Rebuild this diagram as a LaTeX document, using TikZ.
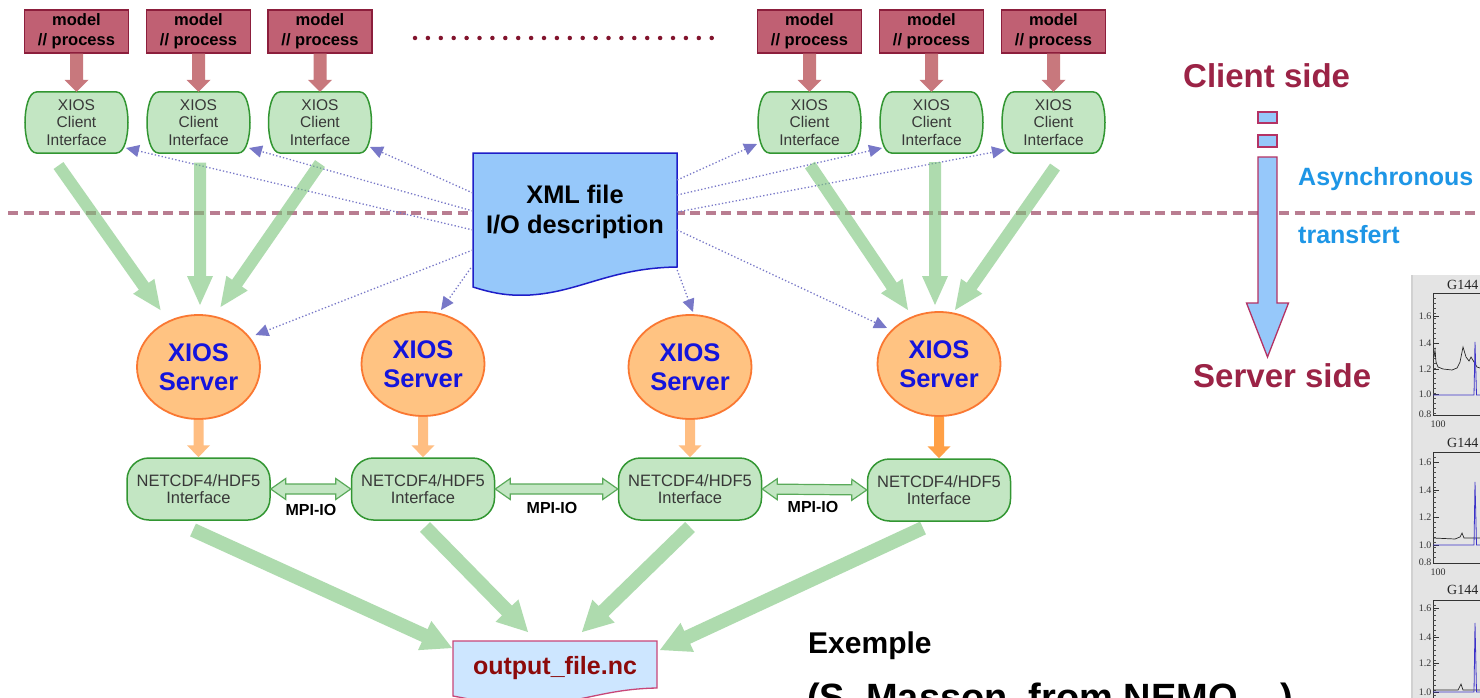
\documentclass[tikz,border=0pt]{standalone}
\usepackage{fontspec}
\setmainfont{Liberation Sans}
\newfontfamily\plotfont{Liberation Serif}
\usetikzlibrary{arrows.meta,shapes.geometric,calc}
\definecolor{modelfill}{RGB}{192,96,115}
\definecolor{modelbd}{RGB}{140,30,60}
\definecolor{redarr}{RGB}{200,120,125}
\definecolor{clfill}{RGB}{195,230,195}
\definecolor{clbd}{RGB}{50,150,50}
\definecolor{garr}{RGB}{120,195,120}
\definecolor{svfill}{RGB}{255,195,130}
\definecolor{svbd}{RGB}{250,120,50}
\definecolor{svtext}{RGB}{20,20,220}
\definecolor{oarr}{RGB}{255,190,130}
\definecolor{oarrdark}{RGB}{255,160,70}
\definecolor{xmlfill}{RGB}{150,200,250}
\definecolor{xmlbd}{RGB}{30,30,200}
\definecolor{dotarr}{RGB}{120,120,200}
\definecolor{dashc}{RGB}{185,125,145}
\definecolor{dotsc}{RGB}{130,20,45}
\definecolor{outfill}{RGB}{205,230,255}
\definecolor{outbd}{RGB}{200,70,120}
\definecolor{outtext}{RGB}{140,10,10}
\definecolor{sidec}{RGB}{155,35,70}
\definecolor{asyc}{RGB}{30,150,230}
\definecolor{legfill}{RGB}{150,200,250}
\definecolor{legbd}{RGB}{180,50,100}
\definecolor{mpibd}{RGB}{90,170,90}
\definecolor{plotbg}{RGB}{228,228,228}
\definecolor{plotblue}{RGB}{60,50,200}
\tikzset{
  blockarrow/.style n args={3}{to path={
    ($(\tikztotarget)!#3!(\tikztostart)$) coordinate (bahead)
    ($(\tikztostart)!#1!90:(\tikztotarget)$)
    -- ($(bahead)!#1!90:(\tikztotarget)$)
    -- ($(bahead)!#2!90:(\tikztotarget)$)
    -- (\tikztotarget)
    -- ($(bahead)!#2!-90:(\tikztotarget)$)
    -- ($(bahead)!#1!-90:(\tikztotarget)$)
    -- ($(\tikztostart)!#1!-90:(\tikztotarget)$) -- cycle}},
  dblarrow/.style n args={3}{to path={
    ($(\tikztotarget)!#3!(\tikztostart)$) coordinate (dbtwo)
    ($(\tikztostart)!#3!(\tikztotarget)$) coordinate (dbone)
    (\tikztostart)
    -- ($(dbone)!#2!90:(\tikztotarget)$)
    -- ($(dbone)!#1!90:(\tikztotarget)$)
    -- ($(dbtwo)!#1!90:(\tikztotarget)$)
    -- ($(dbtwo)!#2!90:(\tikztotarget)$)
    -- (\tikztotarget)
    -- ($(dbtwo)!#2!-90:(\tikztotarget)$)
    -- ($(dbtwo)!#1!-90:(\tikztotarget)$)
    -- ($(dbone)!#1!-90:(\tikztotarget)$)
    -- ($(dbone)!#2!-90:(\tikztotarget)$) -- cycle}},
  modelbox/.style={draw=modelbd, line width=1.2pt, fill=modelfill, minimum width=104pt,
    minimum height=43pt, inner sep=0pt, align=center, font=\bfseries\fontsize{16.5}{20}\selectfont},
  clientnode/.style={minimum width=104pt, minimum height=61pt, inner sep=0pt, align=center,
    text=black!78, font=\fontsize{15.5}{17.5}\selectfont},
  clientshape/.style={draw=clbd, line width=1.5pt, fill=clfill},
  redarrow/.style={fill=redarr, draw=none, blockarrow={6.5pt}{12pt}{12pt}},
  greenarrow/.style={fill=garr, fill opacity=0.6, draw=none, blockarrow={6pt}{13pt}{29pt}},
  outarrow/.style={fill=garr, fill opacity=0.6, draw=none, blockarrow={7pt}{16pt}{30pt}},
  orangearrow/.style={fill=oarr, draw=none, blockarrow={5pt}{11.5pt}{12pt}},
  mpiarrow/.style={draw=mpibd, fill=clfill, line width=1.2pt, line join=miter, dblarrow={5pt}{10.5pt}{15pt}},
  legarrow/.style={draw=legbd, fill=legfill, line width=1.3pt, blockarrow={9.5pt}{21pt}{54pt}},
  server/.style={ellipse, draw=svbd, line width=1.8pt, fill=svfill, minimum width=123pt,
    minimum height=104pt, inner sep=0pt, align=center, text=svtext,
    font=\bfseries\fontsize{25.5}{29}\selectfont},
  ncnode/.style={draw=clbd, line width=1.5pt, fill=clfill, rounded corners=22pt, minimum width=143pt,
    minimum height=62pt, inner sep=0pt, align=center, text=black!78,
    font=\fontsize{16.5}{17}\selectfont},
  mpilabel/.style={font=\bfseries\fontsize{16}{18}\selectfont, anchor=base},
  dotconn/.style={draw=dotarr, line width=1.3pt, dash pattern=on 1.3pt off 2.2pt,
    -{Triangle[length=13pt,width=12pt]}},
  sidetext/.style={text=sidec, font=\bfseries\fontsize{33}{36}\selectfont, anchor=base west, inner sep=0pt},
  asytext/.style={text=asyc, font=\bfseries\fontsize{25}{28}\selectfont, anchor=base west, inner sep=0pt},
  plotlab/.style={font=\plotfont\fontsize{10}{10}\selectfont, anchor=east, inner sep=0.5pt, text=black!80},
  plottitle/.style={font=\plotfont\fontsize{14}{14}\selectfont, anchor=base west, inner sep=0pt, text=black!85},
}
\newcommand\clientat[3]{%
  \draw[clientshape] ({#2-40},{#3-30.5}) -- ({#2+40},{#3-30.5})
    .. controls ({#2+48},{#3-30.5}) and ({#2+51.5},{#3-14}) .. ({#2+51.5},{#3})
    .. controls ({#2+51.5},{#3+14}) and ({#2+48},{#3+30.5}) .. ({#2+40},{#3+30.5})
    -- ({#2-40},{#3+30.5})
    .. controls ({#2-48},{#3+30.5}) and ({#2-51.5},{#3+14}) .. ({#2-51.5},{#3})
    .. controls ({#2-51.5},{#3-14}) and ({#2-48},{#3-30.5}) .. cycle;
  \node[clientnode] (#1) at (#2,#3) {XIOS\\Client\\Interface};}
\begin{document}
\begin{tikzpicture}[x=1pt,y=-1pt]
\path[use as bounding box] (0,0) rectangle (1480,698);
\clip (0,0) rectangle (1480,698);
\fill[white] (0,0) rectangle (1480,698);

% ---- plot fragment (bottom right)
\fill[plotbg] (1411,275) rectangle (1480,698);
\fill[black!18] (1411,275) rectangle (1413,698);
\draw[black!80, line width=0.8pt] (1484,293) -- (1433,293) -- (1433,415) -- (1484,415);
\draw[black!80, line width=0.8pt] (1484,452) -- (1433,452) -- (1433,563) -- (1484,563);
\draw[black!80, line width=0.8pt] (1484,600) -- (1433,600) -- (1433,710);
\foreach \yy in {298,303,...,413}{\draw[black!70, line width=0.5pt] (1433,\yy) -- (1436,\yy);}
\foreach \yy in {457,462,...,561}{\draw[black!70, line width=0.5pt] (1433,\yy) -- (1436,\yy);}
\foreach \yy in {605,610,...,698}{\draw[black!70, line width=0.5pt] (1433,\yy) -- (1436,\yy);}
\foreach \yy in {316,343,369,394}{\draw[black!80, line width=0.6pt] (1433,\yy) -- (1439,\yy);}
\foreach \yy in {462,490,517,545}{\draw[black!80, line width=0.6pt] (1433,\yy) -- (1439,\yy);}
\foreach \yy in {608,637,663,692}{\draw[black!80, line width=0.6pt] (1433,\yy) -- (1439,\yy);}
\node[plottitle] (pt1) at (1447,289) {G144};
\node[plottitle] (pt2) at (1447,447) {G144};
\node[plottitle] (pt3) at (1447,594) {G144};
\node[plotlab] at (1432,316) {1.6};
\node[plotlab] at (1432,343) {1.4};
\node[plotlab] at (1432,369) {1.2};
\node[plotlab] at (1432,394) {1.0};
\node[plotlab] at (1432,414) {0.8};
\node[plotlab, anchor=center] at (1438,424) {100};
\node[plotlab] at (1432,462) {1.6};
\node[plotlab] at (1432,490) {1.4};
\node[plotlab] at (1432,517) {1.2};
\node[plotlab] at (1432,545) {1.0};
\node[plotlab] at (1432,562) {0.8};
\node[plotlab, anchor=center] at (1438,572) {100};
\node[plotlab] at (1432,608) {1.6};
\node[plotlab] at (1432,637) {1.4};
\node[plotlab] at (1432,663) {1.2};
\node[plotlab] at (1432,692) {1.0};
\draw[black!85, line width=0.7pt] (1434,357) -- (1435,350) -- (1436,362) -- (1438,367) -- (1443,369)
  -- (1452,370) -- (1457,368) -- (1460,362) -- (1463,347) -- (1466,357) -- (1469,361) -- (1471,357)
  -- (1474,362) -- (1477,367) -- (1480,368);
\draw[plotblue, line width=0.8pt] (1433,395) -- (1474,395) -- (1475,342) -- (1476.5,395) -- (1480,395);
\draw[black!85, line width=0.7pt] (1433,538) -- (1455,539) -- (1460,537) -- (1462,533) -- (1464,538)
  -- (1474,538) -- (1480,538);
\draw[plotblue, line width=0.8pt] (1433,545) -- (1474,545) -- (1475,482) -- (1476.5,545) -- (1480,545);
\draw[black!85, line width=0.7pt] (1433,690) -- (1458,690) -- (1461,684) -- (1463,690) -- (1480,690);
\draw[plotblue, line width=0.8pt] (1433,692) -- (1474,692) -- (1475,623) -- (1476.5,692) -- (1480,692);

% ---- separators
\draw[dashc, line width=4pt, dash pattern=on 10pt off 5.5pt] (8,213) -- (1476,213);
\draw[dotsc, line width=4.5pt, line cap=round, dash pattern=on 0pt off 12.9pt] (415,38) -- (716,38);

% ---- model processes and client interfaces
\foreach \nm/\cx in {m1/76.5, m2/198.5, m3/320, m4/809.5, m5/931.5, m6/1053.5}{
  \node[modelbox] (\nm) at (\cx,31.5) {model\\// process};
}
\clientat{cl1}{76.5}{122.5}
\clientat{cl2}{198.5}{122.5}
\clientat{cl3}{320}{122.5}
\clientat{cl4}{809.5}{122.5}
\clientat{cl5}{931.5}{122.5}
\clientat{cl6}{1053.5}{122.5}
\foreach \i in {1,...,6}{\path[redarrow] (m\i.south) to (cl\i.north);}

% ---- XML description
\draw[draw=xmlbd, line width=1.5pt, fill=xmlfill] (473,153) -- (677,153) -- (677,267)
  .. controls (610,268) and (580,292) .. (530,295) .. controls (510,296) and (495,294) .. (473,287) -- cycle;
\node[minimum width=204pt, minimum height=120pt, inner sep=0pt, align=center,
  font=\bfseries\fontsize{25.4}{30}\selectfont] (xml) at (575,211.5) {XML file\\I/O description};

% ---- servers and NETCDF interfaces
\node[server] (sv1) at (198.5,367) {XIOS\\Server};
\node[server] (sv2) at (423,364) {XIOS\\Server};
\node[server] (sv3) at (690,367) {XIOS\\Server};
\node[server] (sv4) at (939,364) {XIOS\\Server};
\node[ncnode] (nc1) at (198.5,489) {NETCDF4/HDF5\\Interface};
\node[ncnode] (nc2) at (423,489) {NETCDF4/HDF5\\Interface};
\node[ncnode] (nc3) at (690,489) {NETCDF4/HDF5\\Interface};
\node[ncnode] (nc4) at (939,490) {NETCDF4/HDF5\\Interface};
\path[orangearrow] (sv1.south) to (nc1.north);
\path[orangearrow] (sv2.south) to (nc2.north);
\path[orangearrow] (sv3.south) to (nc3.north);
\path[orangearrow, fill=oarrdark] (sv4.south) to (nc4.north);
\path[mpiarrow] (nc1.east) to (nc2.west);
\path[mpiarrow] (nc2.east) to (nc3.west);
\path[mpiarrow] (nc3.east) to (nc4.west);
\node[mpilabel] (mpi1) at (311,515) {MPI-IO};
\node[mpilabel] (mpi2) at (552,513) {MPI-IO};
\node[mpilabel] (mpi3) at (813,512) {MPI-IO};

% ---- XML dotted connectors
\draw[dotconn] ($(xml.west)+(0,-18.5)$) -- ($(cl3.center)+(50,24.5)$);
\draw[dotconn] ($(xml.west)+(0,-0.5)$) -- ($(cl2.center)+(50.5,25.5)$);
\draw[dotconn] ($(xml.west)+(0,18.5)$) -- ($(cl1.center)+(49.5,25.5)$);
\draw[dotconn] ($(xml.west)+(0,38.5)$) -- ($(sv1.center)+(57,-32)$);
\draw[dotconn] ($(xml.west)+(-2,56.5)$) -- ($(sv2.center)+(18,-54)$);
\draw[dotconn] ($(xml.east)+(0,-31.5)$) -- ($(cl4.center)+(-52.5,21.5)$);
\draw[dotconn] ($(xml.east)+(0,-16.5)$) -- ($(cl5.center)+(-49.5,25.5)$);
\draw[dotconn] ($(xml.east)+(0,0.5)$) -- ($(cl6.center)+(-48.5,27.5)$);
\draw[dotconn] ($(xml.east)+(0,18.5)$) -- ($(sv4.center)+(-52,-36)$);
\draw[dotconn] ($(xml.east)+(0,58.5)$) -- ($(sv3.center)+(3,-55)$);

% ---- client -> server transfers
\coordinate (g1s) at ($(cl1.center)+(-18,43)$);  \coordinate (g1e) at ($(sv1.center)+(-38,-57)$);
\coordinate (g2s) at ($(cl2.center)+(1.5,40)$);  \coordinate (g2e) at ($(sv1.center)+(1.5,-62)$);
\coordinate (g3s) at ($(cl3.center)+(0,41)$);    \coordinate (g3e) at ($(sv1.center)+(22,-60)$);
\coordinate (g4s) at ($(cl4.center)+(0.5,42.5)$); \coordinate (g4e) at ($(sv4.center)+(-31,-54)$);
\coordinate (g5s) at ($(cl5.center)+(3.5,39.5)$); \coordinate (g5e) at ($(sv4.center)+(-4,-59)$);
\coordinate (g6s) at ($(cl6.center)+(1.5,44.5)$); \coordinate (g6e) at ($(sv4.center)+(16,-54)$);
\foreach \i in {1,...,6}{\path[greenarrow] (g\i s) to (g\i e);}

% ---- output file
\draw[draw=outbd, line width=1.3pt, fill=outfill] (453,641) -- (657,641) -- (657,688)
  .. controls (600,689) and (575,706) .. (520,705) .. controls (495,705) and (475,700) .. (453,696) -- cycle;
\node[minimum width=204pt, minimum height=50pt, inner sep=0pt, text=outtext,
  font=\bfseries\fontsize{25}{28}\selectfont] (out) at (555,668) {output\_file.nc};
\coordinate (o1s) at ($(nc1.center)+(-5.5,41)$); \coordinate (o1e) at ($(out.center)+(-103,-20)$);
\coordinate (o2s) at ($(nc2.center)+(2,38)$);    \coordinate (o2e) at ($(out.center)+(-27,-36)$);
\coordinate (o3s) at ($(nc3.center)+(0,38)$);    \coordinate (o3e) at ($(out.center)+(27,-36)$);
\coordinate (o4s) at ($(nc4.center)+(-16,38)$);  \coordinate (o4e) at ($(out.center)+(105,-18)$);
\foreach \i in {1,...,4}{\path[outarrow] (o\i s) to (o\i e);}

% ---- legend
\node[sidetext] (cside) at (1183,88) {Client side};
\node[sidetext] (sside) at (1193,387) {Server side};
\draw[draw=legbd, line width=1.3pt, fill=legfill] (1258,112) rectangle (1277,123);
\draw[draw=legbd, line width=1.3pt, fill=legfill] (1258,135) rectangle (1277,147);
\coordinate (legs) at (1267.5,157);
\coordinate (lege) at (1267.5,357);
\path[legarrow] (legs) to (lege);
\node[asytext] (asy) at (1298,185) {Asynchronous};
\node[asytext] (trf) at (1298,243) {transfert};

% ---- example caption
\node[anchor=base west, inner sep=0pt, font=\bfseries\fontsize{30}{34}\selectfont] (ex1) at (808,653) {Exemple};
\node[anchor=base west, inner sep=0pt, font=\bfseries\fontsize{38}{42}\selectfont] (ex2) at (807,710) {(S. Masson, from NEMO ...)};
\end{tikzpicture}
\end{document}
